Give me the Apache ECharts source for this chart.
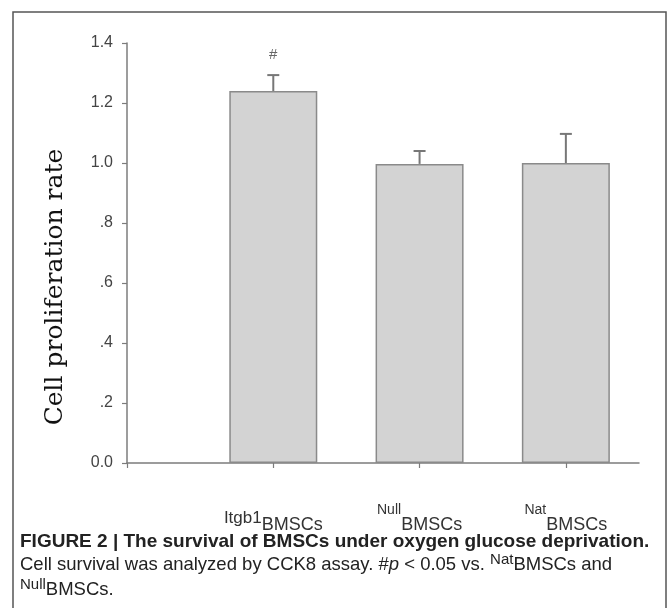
<!DOCTYPE html>
<html>
<head>
<meta charset="utf-8">
<script src="https://cdn.jsdelivr.net/npm/echarts@6/dist/echarts.min.js"></script>
<style>
html,body{margin:0;padding:0;background:#fff;}
#c{width:669px;height:608px;}
</style>
</head>
<body>
<div id="c"></div>
<script>
// ---- data ----
var groupPrefix = ['Itgb1', 'Null', 'Nat'];
var prefixStyle = ['pb', 'p', 'p'];
var groupSuffix = 'BMSCs';
var groupPos = [1, 2, 3];
var meanValues = [1.24, 0.997, 1.0];
var errorValues = [0.053, 0.043, 0.097];
var sigMarks = ['#', '', ''];
var yTicks = [0, 0.2, 0.4, 0.6, 0.8, 1.0, 1.2, 1.4];
var yTickLabels = ['0.0', '.2', '.4', '.6', '.8', '1.0', '1.2', '1.4'];

var chart = echarts.init(document.getElementById('c'));

var barData = groupPos.map(function (p, i) { return [p, meanValues[i]]; });
var errData = groupPos.map(function (p, i) { return [p, meanValues[i], errorValues[i], i]; });

var axisColor = '#7c7c7c';
var sans = 'Liberation Sans, Arial, sans-serif';

var option = {
  animation: false,
  backgroundColor: '#fff',
  grid: { left: 127, right: 30, top: 43, bottom: 145 },
  xAxis: {
    type: 'value',
    min: 0, max: 3.5, interval: 1,
    splitLine: { show: false },
    axisLine: { lineStyle: { color: axisColor, width: 1.5 } },
    axisTick: { show: true, length: 5, lineStyle: { color: axisColor, width: 1.2 } },
    axisLabel: {
      margin: 40,
      showMaxLabel: false,
      formatter: function (v) {
        var i = groupPos.indexOf(v);
        if (i < 0) return '';
        return '{' + prefixStyle[i] + '|' + groupPrefix[i] + '}{s|' + groupSuffix + '}';
      },
      rich: {
        pb: { fontSize: 17, fontFamily: sans, color: '#333', verticalAlign: 'middle', lineHeight: 17 },
        p: { fontSize: 14, fontFamily: sans, color: '#333', verticalAlign: 'top', lineHeight: 14 },
        s: { fontSize: 18, fontFamily: sans, color: '#333', verticalAlign: 'bottom', lineHeight: 31 }
      }
    }
  },
  yAxis: {
    type: 'value',
    min: 0, max: 1.4, interval: 0.2,
    splitLine: { show: false },
    axisLine: { show: true, lineStyle: { color: axisColor, width: 1.5 } },
    axisTick: { show: true, length: 5, lineStyle: { color: axisColor, width: 1.2 } },
    axisLabel: {
      margin: 14,
      fontSize: 16,
      fontFamily: sans,
      color: '#444',
      formatter: function (v) {
        for (var k = 0; k < yTicks.length; k++) {
          if (Math.abs(yTicks[k] - v) < 1e-6) return yTickLabels[k];
        }
        return '';
      }
    }
  },
  series: [
    {
      type: 'bar',
      data: barData,
      barWidth: 88,
      itemStyle: { color: '#d3d3d3', borderColor: '#8a8a8a', borderWidth: 1.5 },
      z: 2
    },
    {
      type: 'custom',
      data: errData,
      z: 3,
      renderItem: function (params, api) {
        var x = api.value(0), m = api.value(1), e = api.value(2), idx = api.value(3);
        var p0 = api.coord([x, m]);
        var p1 = api.coord([x, m + e]);
        var half = 6;
        var children = [
          { type: 'line', shape: { x1: p0[0], y1: p0[1], x2: p1[0], y2: p1[1] }, style: { stroke: '#777', lineWidth: 2 } },
          { type: 'line', shape: { x1: p1[0] - half, y1: p1[1], x2: p1[0] + half, y2: p1[1] }, style: { stroke: '#777', lineWidth: 2 } }
        ];
        var mark = sigMarks[idx];
        if (mark) {
          children.push({
            type: 'text',
            style: {
              text: mark, x: p1[0], y: p1[1] - 13,
              align: 'center', verticalAlign: 'bottom',
              fontSize: 15, fontFamily: sans, fill: '#666'
            }
          });
        }
        return { type: 'group', children: children };
      }
    }
  ],
  graphic: [
    {
      type: 'rect',
      shape: { x: 13, y: 12, width: 653, height: 640 },
      style: { fill: 'none', stroke: '#555', lineWidth: 1.5 },
      silent: true
    },
    {
      type: 'text',
      x: 55, y: 287,
      rotation: Math.PI / 2,
      style: {
        text: 'Cell proliferation rate',
        fontSize: 25,
        fontFamily: 'DejaVu Serif, serif',
        fill: '#111',
        align: 'center',
        verticalAlign: 'middle'
      }
    },
    {
      type: 'text',
      left: 20, top: 532,
      style: {
        text: 'FIGURE 2 | The survival of BMSCs under oxygen glucose deprivation.',
        fontSize: 19, fontWeight: 'bold',
        fontFamily: sans,
        fill: '#222'
      }
    },
    {
      type: 'text',
      left: 20, top: 550,
      style: {
        text: '{n|Cell survival was analyzed by CCK8 assay. #}{i|p}{n| < 0.05 vs. }{sup|Nat}{n|BMSCs and}',
        rich: {
          n: { fontSize: 18.5, fontFamily: sans, fill: '#222', verticalAlign: 'bottom', lineHeight: 22, padding: [5, 0, 0, 0] },
          i: { fontSize: 18.5, fontStyle: 'italic', fontFamily: sans, fill: '#222', verticalAlign: 'bottom', lineHeight: 22, padding: [5, 0, 0, 0] },
          sup: { fontSize: 15, fontFamily: sans, fill: '#222', verticalAlign: 'top', lineHeight: 17 }
        }
      }
    },
    {
      type: 'text',
      left: 20, top: 574,
      style: {
        text: '{sup|Null}{n|BMSCs.}',
        rich: {
          n: { fontSize: 18.5, fontFamily: sans, fill: '#222', verticalAlign: 'bottom', lineHeight: 22, padding: [6, 0, 0, 0] },
          sup: { fontSize: 15, fontFamily: sans, fill: '#222', verticalAlign: 'top', lineHeight: 17 }
        }
      }
    }
  ]
};
chart.setOption(option);
</script>
</body>
</html>
